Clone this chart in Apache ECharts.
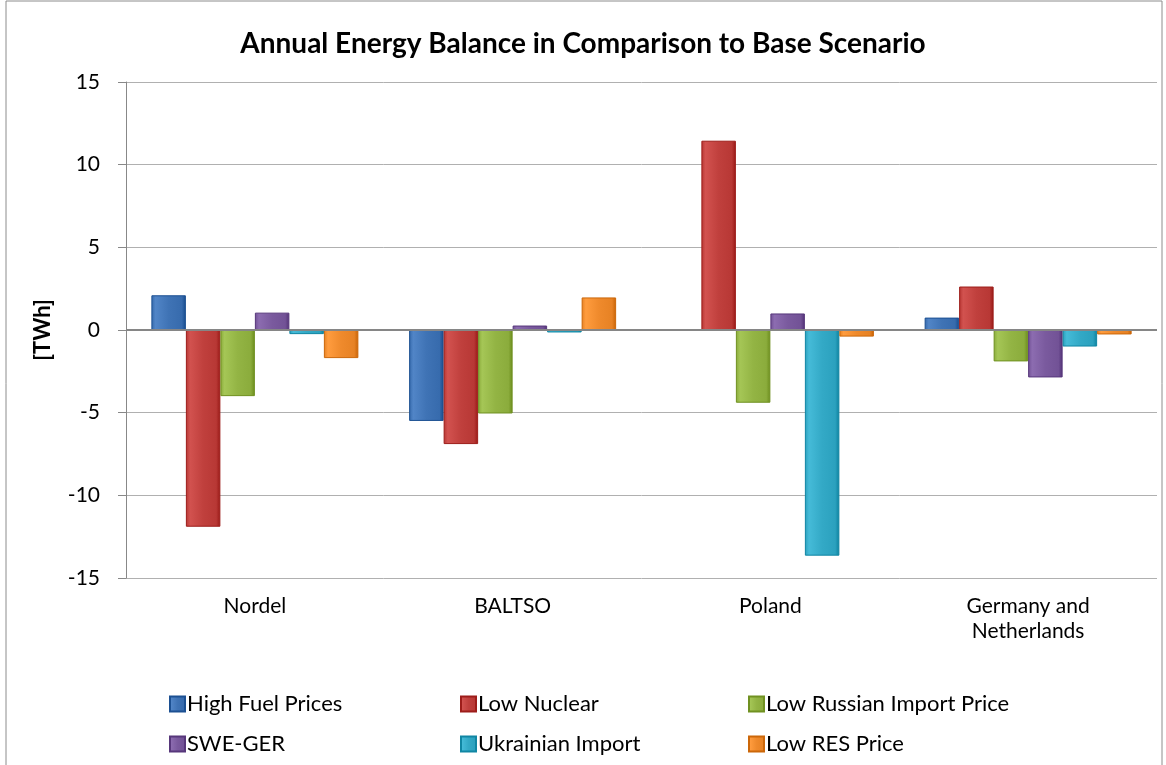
<!DOCTYPE html>
<html>
<head>
<meta charset="utf-8">
<script src="https://cdn.jsdelivr.net/npm/echarts@6/dist/echarts.min.js"></script>
<style>
  html, body { margin: 0; padding: 0; background: #fff; }
  #chart { width: 1166px; height: 765px; }
</style>
</head>
<body>
<div id="chart"></div>
<script>
// regions on the category axis
const regions = ['Nordel', 'BALTSO', 'Poland', 'Germany and\nNetherlands'];
const yTicks = [-15, -10, -5, 0, 5, 10, 15];

// scenario deltas vs base, TWh
const highFuel    = [2.1, -5.5, 0, 0.75];
const lowNuclear  = [-11.9, -6.9, 11.45, 2.63];
const lowRussian  = [-4.0, -5.05, -4.4, -1.9];
const sweGer      = [1.05, 0.27, 1.0, -2.87];
const ukrainian   = [-0.25, -0.15, -13.65, -1.0];
const lowRes      = [-1.7, 1.97, -0.4, -0.27];

const seriesNames = ['High Fuel Prices', 'Low Nuclear', 'Low Russian Import Price',
                     'SWE-GER', 'Ukrainian Import', 'Low RES Price'];
const seriesData = [highFuel, lowNuclear, lowRussian, sweGer, ukrainian, lowRes];
const colors = ['#3f73b5', '#c0403d', '#93b444', '#7a5a9e', '#33a9c6', '#ef8a2c'];

const font = 'Lato, "Open Sans", sans-serif';

function shade(hex, amt) {
  let n = parseInt(hex.slice(1), 16);
  let r = Math.min(255, Math.max(0, (n >> 16) + amt));
  let g = Math.min(255, Math.max(0, ((n >> 8) & 255) + amt));
  let b = Math.min(255, Math.max(0, (n & 255) + amt));
  return 'rgb(' + r + ',' + g + ',' + b + ')';
}

// bevel-ish look: lighter middle, darker edges
const bevel = c => new echarts.graphic.LinearGradient(0, 0, 1, 0, [
  { offset: 0, color: shade(c, -10) },
  { offset: 0.12, color: shade(c, 18) },
  { offset: 0.5, color: c },
  { offset: 0.88, color: shade(c, -8) },
  { offset: 1, color: shade(c, -40) }
]);

const series = seriesNames.map((name, i) => {
  const s = {
    name: name,
    type: 'bar',
    data: seriesData[i],
    barWidth: 34.5,
    barGap: '0%',
    itemStyle: { color: bevel(colors[i]), borderColor: shade(colors[i], -35), borderWidth: 1 },
    emphasis: { disabled: true }
  };
  if (i === 0) {
    s.markLine = {
      silent: true,
      symbol: 'none',
      label: { show: false },
      lineStyle: { color: '#868686', width: 2, type: 'solid' },
      data: [{ yAxis: 0 }]
    };
  }
  return s;
});

// one legend per entry so the 3x2 grid lines up like the original
const legendLefts = [164, 455, 743];
const legendTops = [688, 728];
const legends = seriesNames.map((name, i) => ({
  left: legendLefts[i % 3],
  top: legendTops[Math.floor(i / 3)],
  itemWidth: 15,
  itemHeight: 15,
  icon: 'rect',
  textStyle: { fontFamily: font, fontSize: 22, color: '#000', padding: [0, 0, 0, -3] },
  data: [name]
}));

const chart = echarts.init(document.getElementById('chart'));
chart.setOption({
  animation: false,
  color: colors,
  title: {
    text: 'Annual Energy Balance in Comparison to Base Scenario',
    left: 'center',
    top: 25,
    textStyle: { fontFamily: font, fontSize: 28, fontWeight: 'bold', color: '#000' }
  },
  graphic: [{
    type: 'rect',
    shape: { x: 6, y: 1, width: 1156, height: 775 },
    style: { fill: 'none', stroke: '#8c8c8c', lineWidth: 1 },
    silent: true
  }],
  legend: legends,
  grid: { left: 126, right: 9, top: 82, bottom: 187 },
  xAxis: {
    type: 'category',
    data: regions,
    axisLine: { show: false, onZero: false },
    axisTick: { show: false },
    axisLabel: {
      margin: 16,
      fontFamily: font,
      fontSize: 21,
      color: '#000',
      lineHeight: 25,
      align: 'center'
    }
  },
  yAxis: {
    type: 'value',
    min: -15,
    max: 15,
    interval: 5,
    name: '[TWh]',
    nameLocation: 'middle',
    nameGap: 72,
    nameTextStyle: { fontFamily: font, fontSize: 22, fontWeight: 'bold', color: '#000' },
    axisLine: { show: true, lineStyle: { color: '#888', width: 1 } },
    axisTick: { show: true, length: 8, lineStyle: { color: '#888' } },
    axisLabel: {
      margin: 26,
      fontFamily: font,
      fontSize: 21,
      color: '#000',
      formatter: v => yTicks.indexOf(v) >= 0 ? String(v) : ''
    },
    splitLine: { lineStyle: { color: '#b0b0b0', width: 1 } }
  },
  series: series
});
</script>
</body>
</html>
